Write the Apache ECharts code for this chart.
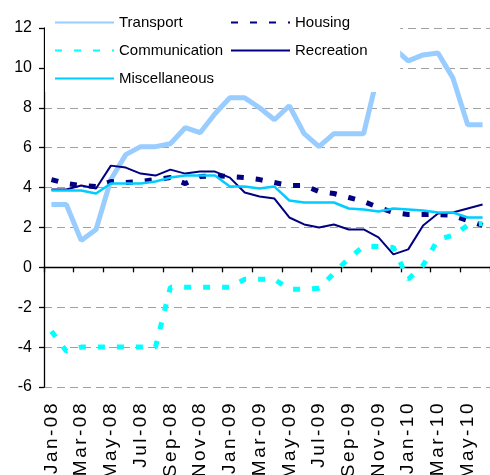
<!DOCTYPE html>
<html>
<head>
<meta charset="utf-8">
<script src="https://cdn.jsdelivr.net/npm/echarts@6/dist/echarts.min.js"></script>
<style>
  html, body { margin: 0; padding: 0; background: #fff; }
  #chart { width: 490px; height: 475px; }
</style>
</head>
<body>
<div id="chart"></div>
<script>
// Monthly categories, Jan-08 .. Jun-10
const months = [
  'Jan-08','Feb-08','Mar-08','Apr-08','May-08','Jun-08','Jul-08','Aug-08','Sep-08','Oct-08','Nov-08','Dec-08',
  'Jan-09','Feb-09','Mar-09','Apr-09','May-09','Jun-09','Jul-09','Aug-09','Sep-09','Oct-09','Nov-09','Dec-09',
  'Jan-10','Feb-10','Mar-10','Apr-10','May-10','Jun-10'
];

const transport = [3.15, 3.15, 1.35, 1.9, 4.4, 5.65, 6.05, 6.05, 6.2, 7.0, 6.75, 7.7,
  8.5, 8.5, 8.0, 7.4, 8.1, 6.7, 6.05, 6.7, 6.7, 6.7, 9.8, 11.0,
  10.35, 10.65, 10.75, 9.5, 7.15, 7.15];

const housing = [4.4, 4.2, 4.1, 4.05, 4.3, 4.25, 4.3, 4.4, 4.5, 4.2, 4.55, 4.6,
  4.55, 4.5, 4.4, 4.25, 4.1, 4.1, 3.8, 3.7, 3.5, 3.3, 3.0, 2.75,
  2.65, 2.65, 2.65, 2.6, 2.35, 2.1];

const communication = [-3.2, -4.2, -4.0, -4.0, -4.0, -4.0, -4.0, -4.0, -1.0, -1.0, -1.0, -1.0,
  -1.0, -0.6, -0.6, -0.6, -1.1, -1.1, -1.05, -0.3, 0.45, 1.05, 1.05, 1.0,
  -0.6, 0.1, 1.4, 1.6, 2.1, 2.2];

const recreation = [3.9, 3.9, 4.1, 3.95, 5.1, 5.0, 4.7, 4.6, 4.9, 4.7, 4.8, 4.8,
  4.5, 3.75, 3.55, 3.45, 2.5, 2.15, 2.0, 2.15, 1.9, 1.9, 1.5, 0.65,
  0.9, 2.1, 2.7, 2.75, 2.95, 3.15];

const miscellaneous = [3.85, 3.85, 3.85, 3.7, 4.2, 4.2, 4.2, 4.3, 4.5, 4.6, 4.6, 4.6,
  4.05, 4.05, 3.95, 4.05, 3.35, 3.25, 3.25, 3.25, 2.95, 2.9, 2.8, 2.95,
  2.9, 2.85, 2.75, 2.75, 2.5, 2.5];

// Date labels are drawn in a larger, loosely tracked face
const baseFillText = CanvasRenderingContext2D.prototype.fillText;
CanvasRenderingContext2D.prototype.fillText = function (text, x, y, maxW) {
  this.letterSpacing = /\b19px\b/.test(this.font) ? '2.5px' : '0px';
  return maxW === undefined
    ? baseFillText.call(this, text, x, y)
    : baseFillText.call(this, text, x, y, maxW);
};

const FONT = "'Liberation Sans', Arial, sans-serif";

function lineSeries(name, data, color, width, dash) {
  return {
    name: name,
    type: 'line',
    data: data,
    xAxisIndex: 0,
    symbol: 'none',
    showSymbol: false,
    lineStyle: { color: color, width: width, type: dash || 'solid', cap: 'butt' },
    itemStyle: { color: color },
    emphasis: { disabled: true }
  };
}

const legendText = { fontFamily: FONT, fontSize: 15, color: '#000' };

const chart = echarts.init(document.getElementById('chart'), null, { renderer: 'canvas' });

chart.setOption({
  animation: false,
  backgroundColor: '#fff',
  textStyle: { fontFamily: FONT },
  grid: { left: 44, top: 28, width: 450, height: 359, containLabel: false },
  legend: [
    {
      // left column; its white box spans the whole key area
      data: ['Transport', 'Communication', 'Miscellaneous'],
      orient: 'vertical',
      left: 45, top: 4,
      padding: [11, 177, 6, 9],
      backgroundColor: '#fff',
      itemWidth: 59, itemHeight: 14, itemGap: 13,
      itemStyle: { opacity: 0 },
      textStyle: legendText,
      selectedMode: false
    },
    {
      data: ['Housing', 'Recreation'],
      orient: 'vertical',
      left: 230, top: 15,
      padding: 0,
      itemWidth: 59, itemHeight: 14, itemGap: 13,
      itemStyle: { opacity: 0 },
      textStyle: legendText,
      selectedMode: false
    }
  ],
  xAxis: [
    {
      // date labels along the bottom
      type: 'category',
      data: months,
      position: 'bottom',
      boundaryGap: true,
      axisLine: { show: false, onZero: false },
      axisTick: { show: false },
      splitLine: { show: false },
      axisLabel: {
        interval: 1,
        rotate: 90,
        margin: 14,
        padding: [6, 0, 0, 0],
        fontFamily: FONT,
        fontSize: 19,
        color: '#000'
      }
    },
    {
      // zero line with its tick marks
      type: 'category',
      data: months,
      position: 'bottom',
      boundaryGap: true,
      axisLine: { show: true, onZero: true, lineStyle: { color: '#000', width: 1.3 } },
      axisTick: { show: true, interval: 1, length: 5, lineStyle: { color: '#000', width: 1.3 } },
      axisLabel: { show: false },
      splitLine: { show: false }
    }
  ],
  yAxis: {
    type: 'value',
    min: -6,
    max: 12,
    interval: 2,
    axisLine: { show: true, lineStyle: { color: '#000', width: 1.3 } },
    axisTick: { show: true, length: 5, lineStyle: { color: '#000', width: 1.3 } },
    axisLabel: { fontFamily: FONT, fontSize: 16, color: '#000', margin: 12 },
    splitLine: { show: true, lineStyle: { color: '#a0a0a0', width: 1, type: [8, 5] } }
  },
  series: [
    lineSeries('Transport', transport, '#99CCFF', 5),
    lineSeries('Housing', housing, '#000080', 5, [7, 12]),
    lineSeries('Communication', communication, '#00FFFF', 5, [7, 12]),
    lineSeries('Recreation', recreation, '#000080', 2),
    lineSeries('Miscellaneous', miscellaneous, '#00CCFF', 2.5)
  ]
});
</script>
</body>
</html>
